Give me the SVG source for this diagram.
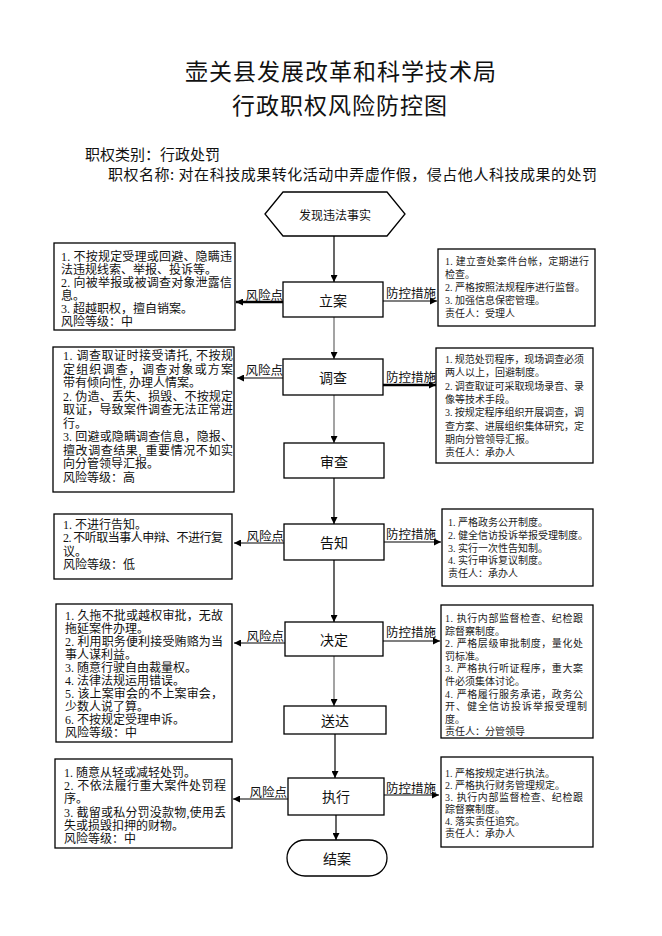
<svg xmlns="http://www.w3.org/2000/svg" width="662" height="936" viewBox="0 0 662 936">
<style>
text{font-family:"Noto Sans CJK SC","Noto Sans",sans-serif;dominant-baseline:central;fill:#111}
.box{fill:#fff;stroke:#000;stroke-width:1.3}
.nt{font-size:14px;text-anchor:middle}
.lt{font-size:12px;font-family:"Liberation Serif","Noto Sans CJK SC",serif}
.rt{font-size:10px;fill:#222;font-family:"Liberation Serif","Noto Sans CJK SC",serif}
.lbl{font-size:12.5px}
.ttl{font-size:23px;text-anchor:middle;letter-spacing:1px}
.hd{font-size:15px}
.conn line{stroke:#000;stroke-width:1.2}
.conn line.g{stroke:#666}
.conn line.thick{stroke-width:2.4}
</style>
<defs>
<marker id="ah" viewBox="0 0 10 10" refX="10" refY="5" markerWidth="8" markerHeight="7" markerUnits="userSpaceOnUse" orient="auto"><path d="M0,0 L10,5 L0,10 z" fill="#000"/></marker>
</defs>

<g id="title">
<text class="ttl" x="341" y="70">壶关县发展改革和科学技术局</text>
<text class="ttl" x="340" y="104">行政职权风险防控图</text>
<text class="hd" x="85" y="153">职权类别：行政处罚</text>
<text class="hd" x="108" y="173" textLength="489" lengthAdjust="spacing">职权名称: 对在科技成果转化活动中弄虚作假，侵占他人科技成果的处罚</text>
</g>

<g class="conn" id="connectors">
<line x1="334" y1="236" x2="334" y2="282" marker-end="url(#ah)"/>
<line class="g" x1="334" y1="317" x2="334" y2="359" marker-end="url(#ah)"/>
<line class="g" x1="334" y1="395" x2="334" y2="443" marker-end="url(#ah)"/>
<line x1="334" y1="478" x2="334" y2="524" marker-end="url(#ah)"/>
<line x1="334" y1="560" x2="334" y2="622" marker-end="url(#ah)"/>
<line class="g" x1="334" y1="656" x2="334" y2="706" marker-end="url(#ah)"/>
<line x1="335" y1="734" x2="335" y2="778" marker-end="url(#ah)"/>
<line x1="336" y1="815" x2="336" y2="840" marker-end="url(#ah)"/>

<line class="thick" x1="283" y1="302" x2="236" y2="302" marker-end="url(#ah)"/>
<line x1="383" y1="301" x2="437" y2="301" marker-end="url(#ah)"/>
<line x1="283" y1="378" x2="237" y2="378" marker-end="url(#ah)"/>
<line class="thick" x1="383" y1="385" x2="436" y2="385" marker-end="url(#ah)"/>
<line x1="284" y1="543" x2="234" y2="543" marker-end="url(#ah)"/>
<line x1="384" y1="542" x2="441" y2="542" marker-end="url(#ah)"/>
<line x1="285" y1="643" x2="234" y2="643" marker-end="url(#ah)"/>
<line x1="383" y1="641" x2="440" y2="641" marker-end="url(#ah)"/>
<line x1="288" y1="799" x2="233" y2="799" marker-end="url(#ah)"/>
<line x1="384" y1="795" x2="439" y2="795" marker-end="url(#ah)"/>

<text class="lbl" x="283" y="294" text-anchor="end">风险点</text>
<text class="lbl" x="386" y="292">防控措施</text>
<text class="lbl" x="283" y="369" text-anchor="end">风险点</text>
<text class="lbl" x="386" y="376">防控措施</text>
<text class="lbl" x="284" y="535" text-anchor="end">风险点</text>
<text class="lbl" x="386" y="533">防控措施</text>
<text class="lbl" x="284" y="635" text-anchor="end">风险点</text>
<text class="lbl" x="386" y="631">防控措施</text>
<text class="lbl" x="287" y="791" text-anchor="end">风险点</text>
<text class="lbl" x="386" y="787">防控措施</text>
</g>

<g id="n-start">
<polygon class="box" points="265,214 283,192 387,192 405,214 387,236 283,236"/>
<text x="335" y="214" font-size="12" text-anchor="middle">发现违法事实</text>
</g>
<g id="n-lian"><rect class="box" x="283" y="282" width="100" height="35"/><text class="nt" x="333" y="300">立案</text></g>
<g id="n-diaocha"><rect class="box" x="283" y="359" width="100" height="36"/><text class="nt" x="333" y="377">调查</text></g>
<g id="n-shencha"><rect class="box" x="284" y="443" width="100" height="35"/><text class="nt" x="334" y="461">审查</text></g>
<g id="n-gaozhi"><rect class="box" x="284" y="524" width="100" height="36"/><text class="nt" x="334" y="542">告知</text></g>
<g id="n-jueding"><rect class="box" x="285" y="622" width="98" height="34"/><text class="nt" x="334" y="639">决定</text></g>
<g id="n-songda"><rect class="box" x="284" y="706" width="102" height="28"/><text class="nt" x="335" y="720">送达</text></g>
<g id="n-zhixing"><rect class="box" x="288" y="778" width="96" height="37"/><text class="nt" x="336" y="796">执行</text></g>
<g id="n-end"><rect class="box" x="287" y="840" width="100" height="36" rx="18" ry="18"/><text class="nt" x="337" y="858">结案</text></g>

<g id="risk-lian">
<rect class="box" x="54" y="243" width="181" height="87"/>
<text class="lt">
<tspan x="61" y="257" textLength="171" lengthAdjust="spacing">1. 不按规定受理或回避、隐瞒违</tspan>
<tspan x="61" y="270">法违规线索、举报、投诉等。</tspan>
<tspan x="61" y="283" textLength="171" lengthAdjust="spacing">2. 向被举报或被调查对象泄露信</tspan>
<tspan x="61" y="296">息。</tspan>
<tspan x="61" y="309">3. 超越职权，擅自销案。</tspan>
<tspan x="61" y="322">风险等级：中</tspan>
</text>
</g>

<g id="risk-diaocha">
<rect class="box" x="53" y="347" width="181" height="145"/>
<text class="lt">
<tspan x="63" y="356" textLength="170" lengthAdjust="spacing">1. 调查取证时接受请托, 不按规</tspan>
<tspan x="63" y="369.6" textLength="170" lengthAdjust="spacing">定组织调查，调查对象或方案</tspan>
<tspan x="63" y="383.1">带有倾向性, 办理人情案。</tspan>
<tspan x="63" y="396.7" textLength="170" lengthAdjust="spacing">2. 伪造、丢失、损毁、不按规定</tspan>
<tspan x="63" y="410.2" textLength="170" lengthAdjust="spacing">取证，导致案件调查无法正常进</tspan>
<tspan x="63" y="423.8">行。</tspan>
<tspan x="63" y="437.3" textLength="170" lengthAdjust="spacing">3. 回避或隐瞒调查信息，隐报、</tspan>
<tspan x="63" y="450.9" textLength="170" lengthAdjust="spacing">擅改调查结果, 重要情况不如实</tspan>
<tspan x="63" y="464.4">向分管领导汇报。</tspan>
<tspan x="63" y="478">风险等级：高</tspan>
</text>
</g>

<g id="risk-gaozhi">
<rect class="box" x="54" y="514" width="178" height="65"/>
<text class="lt">
<tspan x="63" y="525">1. 不进行告知。</tspan>
<tspan x="63" y="538.3" textLength="160" lengthAdjust="spacing">2. 不听取当事人申辩、不进行复</tspan>
<tspan x="63" y="551.6">议。</tspan>
<tspan x="63" y="565">风险等级：低</tspan>
</text>
</g>

<g id="risk-jueding">
<rect class="box" x="56" y="604" width="176" height="138"/>
<text class="lt">
<tspan x="65" y="616" textLength="158" lengthAdjust="spacing">1. 久拖不批或越权审批，无故</tspan>
<tspan x="65" y="629">拖延案件办理。</tspan>
<tspan x="65" y="642" textLength="158" lengthAdjust="spacing">2. 利用职务便利接受贿赂为当</tspan>
<tspan x="65" y="655">事人谋利益。</tspan>
<tspan x="65" y="668">3. 随意行驶自由裁量权。</tspan>
<tspan x="65" y="681">4. 法律法规运用错误。</tspan>
<tspan x="65" y="694" textLength="158" lengthAdjust="spacing">5. 该上案审会的不上案审会，</tspan>
<tspan x="65" y="707">少数人说了算。</tspan>
<tspan x="65" y="720">6. 不按规定受理申诉。</tspan>
<tspan x="65" y="733">风险等级：中</tspan>
</text>
</g>

<g id="risk-zhixing">
<rect class="box" x="55" y="759" width="177" height="89"/>
<text class="lt">
<tspan x="64" y="773">1. 随意从轻或减轻处罚。</tspan>
<tspan x="64" y="786.2" textLength="162" lengthAdjust="spacing">2. 不依法履行重大案件处罚程</tspan>
<tspan x="64" y="799.4">序。</tspan>
<tspan x="64" y="812.6" textLength="162" lengthAdjust="spacing">3. 截留或私分罚没款物,使用丢</tspan>
<tspan x="64" y="825.8">失或损毁扣押的财物。</tspan>
<tspan x="64" y="839">风险等级：中</tspan>
</text>
</g>

<g id="ctrl-lian">
<rect class="box" x="438" y="249" width="157" height="77"/>
<text class="rt">
<tspan x="445" y="261" textLength="144" lengthAdjust="spacing">1. 建立查处案件台帐，定期进行</tspan>
<tspan x="445" y="274">检查。</tspan>
<tspan x="445" y="287">2. 严格按照法规程序进行监督。</tspan>
<tspan x="445" y="300">3. 加强信息保密管理。</tspan>
<tspan x="445" y="313">责任人：受理人</tspan>
</text>
</g>

<g id="ctrl-diaocha">
<rect class="box" x="436" y="348" width="157" height="115"/>
<text class="rt">
<tspan x="445" y="359" textLength="139" lengthAdjust="spacing">1. 规范处罚程序，现场调查必须</tspan>
<tspan x="445" y="372.3">两人以上，回避制度。</tspan>
<tspan x="445" y="385.6" textLength="139" lengthAdjust="spacing">2. 调查取证可采取现场录音、录</tspan>
<tspan x="445" y="398.9">像等技术手段。</tspan>
<tspan x="445" y="412.2" textLength="139" lengthAdjust="spacing">3. 按规定程序组织开展调查，调</tspan>
<tspan x="445" y="425.5" textLength="139" lengthAdjust="spacing">查方案、进展组织集体研究，定</tspan>
<tspan x="445" y="438.8">期向分管领导汇报。</tspan>
<tspan x="445" y="452">责任人：承办人</tspan>
</text>
</g>

<g id="ctrl-gaozhi">
<rect class="box" x="442" y="509" width="151" height="77"/>
<text class="rt">
<tspan x="448" y="522">1. 严格政务公开制度。</tspan>
<tspan x="448" y="534.8">2. 健全信访投诉举报受理制度。</tspan>
<tspan x="448" y="547.5">3. 实行一次性告知制。</tspan>
<tspan x="448" y="560.3">4. 实行申诉复议制度。</tspan>
<tspan x="448" y="573">责任人：承办人</tspan>
</text>
</g>

<g id="ctrl-jueding">
<rect class="box" x="441" y="605" width="152" height="133"/>
<text class="rt">
<tspan x="445" y="618" textLength="138" lengthAdjust="spacing">1. 执行内部监督检查、纪检跟</tspan>
<tspan x="445" y="630.6">踪督察制度。</tspan>
<tspan x="445" y="643.2" textLength="138" lengthAdjust="spacing">2. 严格层级审批制度，量化处</tspan>
<tspan x="445" y="655.8">罚标准。</tspan>
<tspan x="445" y="668.4" textLength="138" lengthAdjust="spacing">3. 严格执行听证程序，重大案</tspan>
<tspan x="445" y="681">件必须集体讨论。</tspan>
<tspan x="445" y="693.6" textLength="138" lengthAdjust="spacing">4. 严格履行服务承诺，政务公</tspan>
<tspan x="445" y="706.2" textLength="142" lengthAdjust="spacing">开、健全信访投诉举报受理制</tspan>
<tspan x="445" y="718.8">度。</tspan>
<tspan x="445" y="731.4">责任人：分管领导</tspan>
</text>
</g>

<g id="ctrl-zhixing">
<rect class="box" x="441" y="757" width="152" height="90"/>
<text class="rt">
<tspan x="445" y="773">1. 严格按规定进行执法。</tspan>
<tspan x="445" y="785">2. 严格执行财务管理规定。</tspan>
<tspan x="445" y="797" textLength="138" lengthAdjust="spacing">3. 执行内部监督检查、纪检跟</tspan>
<tspan x="445" y="809">踪督察制度。</tspan>
<tspan x="445" y="821">4. 落实责任追究。</tspan>
<tspan x="445" y="833">责任人：承办人</tspan>
</text>
</g>
</svg>
